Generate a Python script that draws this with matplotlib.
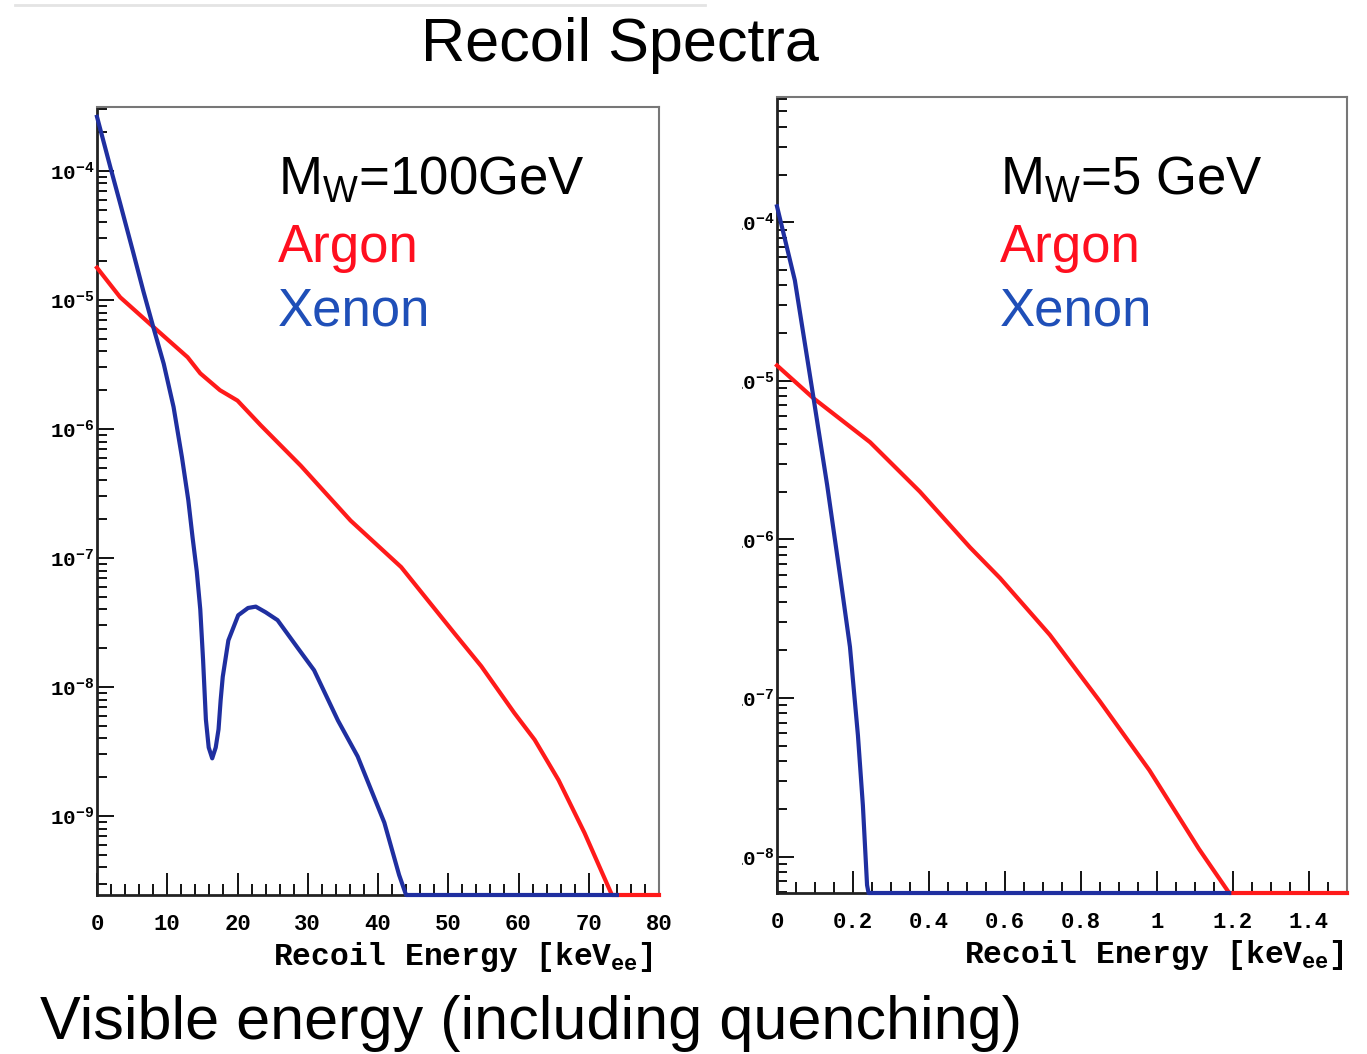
import numpy as np
import matplotlib
matplotlib.use('Agg')
import matplotlib.pyplot as plt
from matplotlib.ticker import MultipleLocator, LogLocator, NullFormatter, FuncFormatter
from matplotlib.patches import Rectangle
from matplotlib.lines import Line2D

plt.rcParams['mathtext.default'] = 'regular'

# M_W = 100 GeV panel (recoil energy in keVee, rate)
xe100_E = [0, 1.9, 3.3, 5.1, 6.6, 8.0, 9.5, 10.9, 12.1, 13.0, 13.6, 14.2, 14.7,
           15.1, 15.5, 15.9, 16.4, 16.9, 17.3, 17.6, 17.9, 18.7, 20.1, 21.5, 22.6,
           24.0, 25.7, 28.6, 30.9, 34.3, 37.1, 40.9, 43.0, 44.0, 74.0]
xe100_R = [2.63e-4, 1.07e-4, 5.6e-5, 2.4e-5, 1.17e-5, 6.2e-6, 3.2e-6, 1.48e-6,
           6.0e-7, 2.8e-7, 1.45e-7, 7.9e-8, 4.0e-8, 1.62e-8, 5.6e-9, 3.4e-9, 2.8e-9,
           3.4e-9, 4.7e-9, 7.9e-9, 1.2e-8, 2.3e-8, 3.6e-8, 4.1e-8, 4.2e-8, 3.8e-8,
           3.3e-8, 2.0e-8, 1.35e-8, 5.5e-9, 2.9e-9, 8.9e-10, 3.5e-10, 0, 0]
ar100_E = [0, 3.3, 8.0, 12.9, 14.7, 17.5, 20.0, 23.3, 29.0, 36.1, 43.3, 47.1, 50.9,
           54.7, 59.4, 62.3, 65.7, 69.4, 73.3, 80.0]
ar100_R = [1.78e-5, 1.05e-5, 6.2e-6, 3.6e-6, 2.7e-6, 2.0e-6, 1.66e-6, 1.07e-6, 5.2e-7,
           1.95e-7, 8.5e-8, 4.7e-8, 2.6e-8, 1.45e-8, 6.3e-9, 3.9e-9, 1.9e-9, 7.4e-10,
           0, 0]

# M_W = 5 GeV panel
xe5_E = [0, 0.047, 0.095, 0.132, 0.166, 0.192, 0.213, 0.226, 0.237, 0.241, 1.19]
xe5_R = [1.26e-4, 4.3e-5, 8.1e-6, 2.2e-6, 5.9e-7, 2.1e-7, 5.8e-8, 2.1e-8, 6.6e-9, 0, 0]
ar5_E = [0, 0.095, 0.245, 0.376, 0.508, 0.587, 0.718, 0.85, 0.98, 1.11, 1.19, 1.5]
ar5_R = [1.25e-5, 7.8e-6, 4.1e-6, 2.0e-6, 8.9e-7, 5.7e-7, 2.5e-7, 9.5e-8, 3.5e-8,
         1.12e-8, 0, 0]

W, H = 1367, 1054
fig = plt.figure(figsize=(W / 100, H / 100), dpi=100)

red = '#ff1a1a'
blue = '#1f2fa0'
mono = {'family': ['Liberation Mono', 'DejaVu Sans Mono'], 'weight': 'bold'}


def px_axes(x0, x1, ytop, ybot):
    return fig.add_axes([x0 / W, 1 - ybot / H, (x1 - x0) / W, (ybot - ytop) / H])


def style(ax, xmaj, xmin, xfmt):
    ax.set_yscale('log')
    ax.xaxis.set_major_locator(MultipleLocator(xmaj))
    ax.xaxis.set_minor_locator(MultipleLocator(xmin))
    ax.xaxis.set_major_formatter(FuncFormatter(xfmt))
    ax.yaxis.set_major_locator(LogLocator(base=10))
    ax.yaxis.set_minor_locator(LogLocator(base=10, subs=np.arange(2, 10)))
    ax.yaxis.set_minor_formatter(NullFormatter())
    ax.yaxis.set_major_formatter(FuncFormatter(lambda v, p: '10$^{%d}$' % round(np.log10(v))))
    ax.tick_params(axis='x', which='major', direction='in', length=16, width=1.3,
                   top=False, pad=14)
    ax.tick_params(axis='x', which='minor', direction='in', length=8, width=1.3, top=False)
    ax.tick_params(axis='y', which='major', direction='in', length=12, width=1.3,
                   right=False, pad=2)
    ax.tick_params(axis='y', which='minor', direction='in', length=7, width=1.3, right=False)
    for t in ax.get_xticklabels() + ax.get_yticklabels():
        t.set_fontproperties(mono)
    ax.tick_params(axis='x', labelsize=16)
    ax.tick_params(axis='y', labelsize=15)
    for s in ['top', 'right']:
        ax.spines[s].set_color('#777777')
        ax.spines[s].set_linewidth(1.5)
    for s in ['bottom', 'left']:
        ax.spines[s].set_color('#222222')
        ax.spines[s].set_linewidth(2)


def curve(ax, E, R, ymin, color):
    R = np.array(R, dtype=float)
    R = np.where(R > 0, R, ymin)
    ax.plot(E, R, color=color, lw=3, clip_on=False, zorder=3)


# left panel
ax1 = px_axes(97, 659, 107, 895)
y1min = 10 ** -9.612
ax1.set_xlim(0, 80)
ax1.set_ylim(y1min, 10 ** -3.504)
curve(ax1, ar100_E, ar100_R, y1min, red)
curve(ax1, xe100_E, xe100_R, y1min, blue)
style(ax1, 10, 2, lambda v, p: '%g' % v)
ax1.set_xlabel('Recoil Energy [keV$_{ee}$]', fontdict=mono, fontsize=22.5, loc='right',
               labelpad=3)
ax1.xaxis.label.set_x(0.99)

# right panel
ax2 = px_axes(777, 1347, 97, 893)
y2min = 10 ** -8.23
ax2.set_xlim(0, 1.5)
ax2.set_ylim(y2min, 10 ** -3.21)
curve(ax2, ar5_E, ar5_R, y2min, red)
curve(ax2, xe5_E, xe5_R, y2min, blue)
style(ax2, 0.2, 0.05, lambda v, p: '%g' % round(v, 2))
ax2.set_xlabel('Recoil Energy [keV$_{ee}$]', fontdict=mono, fontsize=22.5, loc='right',
               labelpad=3)
ax2.xaxis.label.set_x(0.995)

# right panel was cut on its left side in the original slide
fig.add_artist(Rectangle((680 / W, 1 - 900 / H), 62 / W, 810 / H,
                         transform=fig.transFigure, facecolor='white',
                         edgecolor='none', zorder=10))
fig.add_artist(Line2D([15 / W, 705 / W], [1 - 5 / H, 1 - 5 / H], color='#e4e4e4',
                      lw=2, transform=fig.transFigure))

sans = ['Liberation Sans', 'DejaVu Sans']
fig.text(620 / W, 1 - 45 / H, 'Recoil Spectra', ha='center', va='center', fontsize=44,
         family=['Liberation Sans Narrow', 'Liberation Sans', 'DejaVu Sans'])
fig.text(40 / W, 1 - 1039 / H, 'Visible energy (including quenching)', ha='left',
         va='baseline', fontsize=44, family=sans)

for x0, mass in [(278, 'M$_W$=100GeV'), (1000, 'M$_W$=5 GeV')]:
    fig.text(x0 / W, 1 - 195 / H, mass, fontsize=38, family=sans, color='black',
             va='baseline')
    fig.text(x0 / W, 1 - 262 / H, 'Argon', fontsize=38, family=sans, color='#ff0f1f',
             va='baseline')
    fig.text(x0 / W, 1 - 325 / H, 'Xenon', fontsize=38, family=sans, color='#1f4fb8',
             va='baseline')

plt.savefig('out.png', dpi=100)
